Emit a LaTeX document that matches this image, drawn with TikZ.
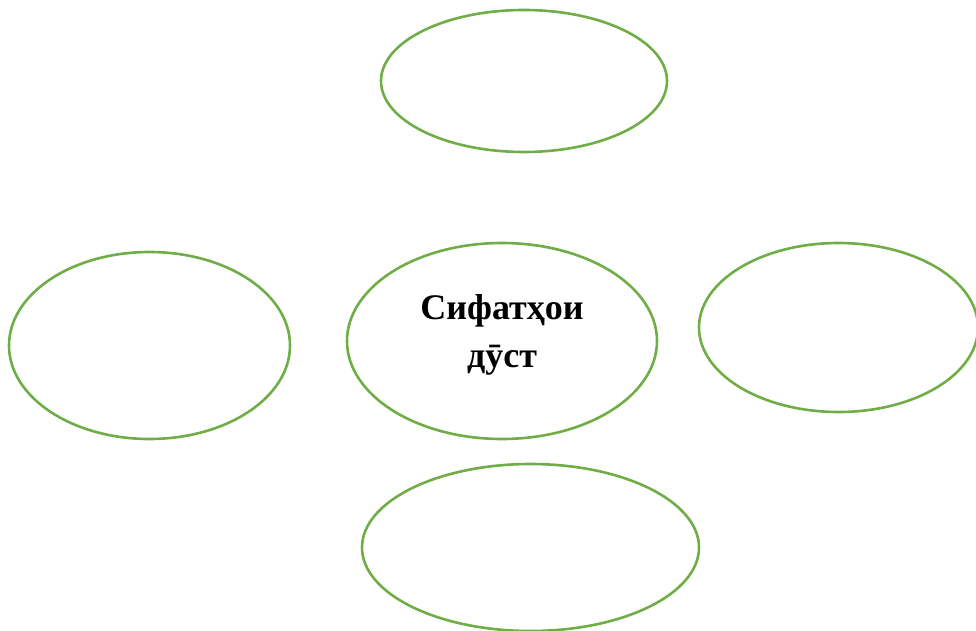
\documentclass[tikz,border=0pt]{standalone}
\usepackage{fontspec}
\setmainfont{Liberation Serif}
\definecolor{egreen}{HTML}{70AD47}
\begin{document}
\begin{tikzpicture}[x=1pt,y=-1pt,
  oval/.style={draw=egreen,line width=2.6pt}]
\useasboundingbox (0,0) rectangle (976,631);
\begin{scope}
\clip (0,0) rectangle (976,631);
\draw[oval] (524,81) ellipse [x radius=143,y radius=71];
\draw[oval] (149.5,345.5) ellipse [x radius=140.5,y radius=93.5];
\draw[oval] (502,341) ellipse [x radius=155,y radius=98];
\draw[oval] (838.5,327.5) ellipse [x radius=139.5,y radius=84.5];
\draw[oval] (530.5,547.5) ellipse [x radius=168.5,y radius=83.5];
\end{scope}
\node[font=\bfseries\fontsize{36}{48}\selectfont,align=center] (c) at (502,335) {Сифатҳои\\дӯст};
\end{tikzpicture}
\end{document}
